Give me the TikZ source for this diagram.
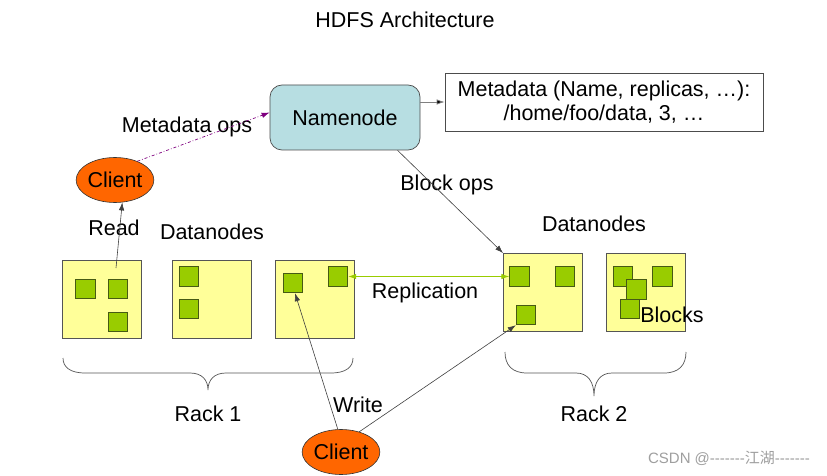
\documentclass[tikz,border=0pt]{standalone}
\usepackage{fontspec}
\setmainfont{Liberation Sans}
\newfontfamily\cjk{Noto Sans CJK SC}
\newfontfamily\wmfont[Ligatures=NoCommon,Mapping=]{Liberation Sans}
\usetikzlibrary{arrows.meta,shapes.geometric}
\definecolor{nnblue}{RGB}{183,222,226}
\definecolor{dnyellow}{RGB}{255,255,153}
\definecolor{blkgreen}{RGB}{153,204,0}
\definecolor{blkedge}{RGB}{70,90,20}
\definecolor{clorange}{RGB}{255,102,0}
\definecolor{mdpurple}{RGB}{128,0,128}
\definecolor{edgegray}{RGB}{85,85,85}
\begin{document}
\begin{tikzpicture}[x=1pt,y=-1pt,
  every node/.style={font=\fontsize{21.5}{24.5}\selectfont, inner sep=0pt},
  dnbox/.style={draw=edgegray, line width=0.9pt, fill=dnyellow, minimum width=79pt, minimum height=78pt},
  blk/.style={draw=blkedge, line width=0.9pt, fill=blkgreen, minimum size=19.5pt},
  client/.style={ellipse, draw=black!80, line width=0.6pt, fill=clorange, minimum width=77pt, minimum height=45pt},
  tip/.style={-{Latex[length=8pt,width=5.5pt]}},
  conn/.style={draw=black!75, line width=0.6pt, tip},
  brace/.style={draw=edgegray, line width=0.7pt}]
\useasboundingbox (0,0) rectangle (827,476);
\fill[white] (0,0) rectangle (827,476);

\node (title) at (405,20) {HDFS Architecture};

% namenode and metadata
\node[draw=black!70, line width=0.7pt, fill=nnblue, rounded corners=12pt, minimum width=150pt, minimum height=65pt] (nn) at (345,117.5) {Namenode};
\node[draw=black!70, line width=0.7pt, minimum width=318pt, minimum height=58pt, align=center] (meta) at (604,102) {Metadata (Name, replicas, …):\\/home/foo/data, 3, …};
\draw[draw=gray, line width=0.8pt, -{Latex[length=8pt,width=5.5pt,fill=black]}] (nn.east |- meta.west) -- (meta.west);

% clients
\node[client] (c1) at (115,180) {Client};
\node[client] (c2) at (341,452) {Client};

% rack 1 datanodes
\node[dnbox] (d1) at (101.5,299) {};
\node[dnbox] (d2) at (212,299) {};
\node[dnbox] (d3) at (315,299) {};
\node[blk] (b1a) at (85.5,289) {};
\node[blk] (b1b) at (118,289) {};
\node[blk] (b1c) at (118,322) {};
\node[blk] (b2a) at (189,276.5) {};
\node[blk] (b2b) at (189,309) {};
\node[blk] (b3a) at (293,283) {};
\node[blk] (b3b) at (338,276.5) {};

% rack 2 datanodes
\node[dnbox] (d4) at (543,292.5) {};
\node[dnbox] (d5) at (646,292.5) {};
\node[blk] (b4a) at (519.5,276.5) {};
\node[blk] (b4b) at (565,276.5) {};
\node[blk] (b4c) at (526,315) {};
\node[blk] (b5a) at (623,276.5) {};
\node[blk] (b5b) at (662.5,276.5) {};
\node[blk] (b5c) at (636.5,289.5) {};
\node[blk] (b5d) at (630,309) {};
\node (blocks) at (672,315) {Blocks};

% labels
\node (lmeta) at (187,127) {Metadata ops};
\node (lread) at (114,228) {Read};
\node (ldn1) at (212,232) {Datanodes};
\node (ldn2) at (594,224) {Datanodes};
\node (lblock) at (447,185) {Block ops};
\node (lrep) at (425,293) {Replication};
\node (lwrite) at (358,405) {Write};
\node (lrack1) at (208,414) {Rack 1};
\node (lrack2) at (594,414) {Rack 2};

% connectors
\draw[mdpurple, line width=0.7pt, dash dot, tip] (c1.40) -- ([yshift=5pt]nn.west);
\coordinate (rs) at (116,268);
\draw[conn] (rs) -- (c1.-72);
\draw[conn] (nn.-32) -- (d4.north west);
\draw[blkgreen, line width=0.9pt, {Latex[length=8pt,width=5.5pt]}-{Latex[length=8pt,width=5.5pt]}] (b3b.east) -- (b4a.west);
\draw[conn] (c2.98) -- ([xshift=2pt]b3a.south);
\draw[conn] (c2.48) -- (b4c.south west);

% braces
\draw[brace] (63,358) .. controls (63,367) and (70,373) .. (85,373) -- (190,373)
  .. controls (202,373) and (208,380) .. (208,390)
  .. controls (208,380) and (214,373) .. (226,373) -- (331,373)
  .. controls (346,373) and (353,367) .. (353,358);
\draw[brace] (505,352) .. controls (505,365) and (512,373) .. (527,373) -- (576,373)
  .. controls (588,373) and (594,382) .. (594,396)
  .. controls (594,382) and (600,373) .. (612,373) -- (664,373)
  .. controls (679,373) and (686,365) .. (686,352);

% watermark
\node[text=gray!75, font=\fontsize{15}{17}\selectfont] (wm) at (729,458) {CSDN @{-}{-}{-}{-}{-}{-}{-}{\cjk 江湖}{-}{-}{-}{-}{-}{-}{-}};
\end{tikzpicture}
\end{document}
